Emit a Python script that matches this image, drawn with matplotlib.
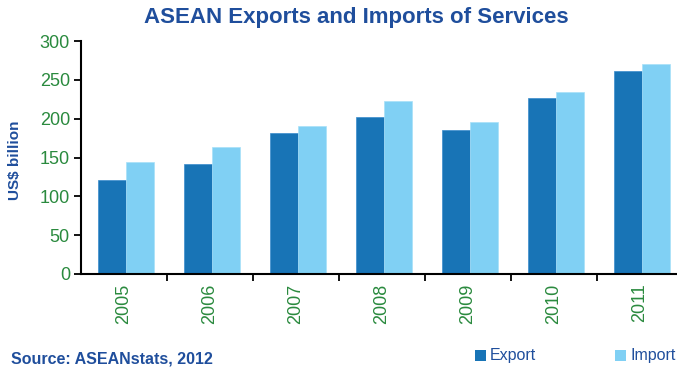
import matplotlib
matplotlib.use("Agg")
import matplotlib.pyplot as plt
from matplotlib.patches import Rectangle
import numpy as np

years = ["2005", "2006", "2007", "2008", "2009", "2010", "2011"]
export_vals = [121, 142, 181, 202, 186, 227, 262]
import_vals = [144, 163, 191, 223, 196, 234, 270]
yticks = [0, 50, 100, 150, 200, 250, 300]

plt.rcParams['font.family'] = ['Liberation Sans', 'DejaVu Sans']

EXP_C = "#1874b6"
IMP_C = "#80d0f4"
GREEN = "#2a8a3e"
BLUE = "#1f4e9c"

W, H = 677, 370
fig = plt.figure(figsize=(W/100, H/100), dpi=100)
ax = fig.add_axes([81/W, 1-274/H, 1-81/W, (274-41)/H])

x = np.arange(len(years))
w = 0.326
ax.bar(x - w/2 + 0.02, export_vals, width=w, color=EXP_C, edgecolor="#3a8ccc", linewidth=0.5)
ax.bar(x + w/2 + 0.02, import_vals, width=w, color=IMP_C, edgecolor="#a8e0f8", linewidth=0.5)

ax.set_ylim(0, 300)
ax.set_xlim(-0.5, (W-81)/86 - 0.5)
ax.set_yticks(yticks)
ax.set_xticks(x)
ax.set_xticklabels(years, rotation=90, color=GREEN, fontsize=13)
ax.set_xticks(x[:-1] + 0.5, minor=True)
ax.tick_params(axis='x', which='major', length=0, pad=7)
ax.tick_params(axis='x', which='minor', length=5, width=1.3, direction='out')
ax.tick_params(axis='y', labelsize=13, labelcolor=GREEN, length=5, width=1.3, direction='out', pad=3)
for s in ['top', 'right']:
    ax.spines[s].set_visible(False)
for s in ['left', 'bottom']:
    ax.spines[s].set_linewidth(1.5)

fig.text(356/W, 1-17/H, "ASEAN Exports and Imports of Services", ha='center', va='center',
         fontsize=16, fontweight='bold', color=BLUE)
fig.text(15/W, 1-160/H, "US$ billion", rotation=90, ha='center', va='center',
         fontsize=11, fontweight='bold', color=BLUE)
fig.text(11/W, 1-359/H, "Source: ASEANstats, 2012", ha='left', va='center',
         fontsize=11.5, fontweight='bold', color=BLUE)

# legend drawn manually in figure pixels
for (sx, label, col) in [(475, "Export", EXP_C), (615, "Import", IMP_C)]:
    fig.add_artist(Rectangle((sx/W, 1-361/H), 11/W, 11/H, transform=fig.transFigure,
                             facecolor=col, edgecolor='none'))
    fig.text((sx+15)/W, 1-355.5/H, label, ha='left', va='center', fontsize=11.5, color=BLUE)

fig.savefig("out.png", dpi=100)
